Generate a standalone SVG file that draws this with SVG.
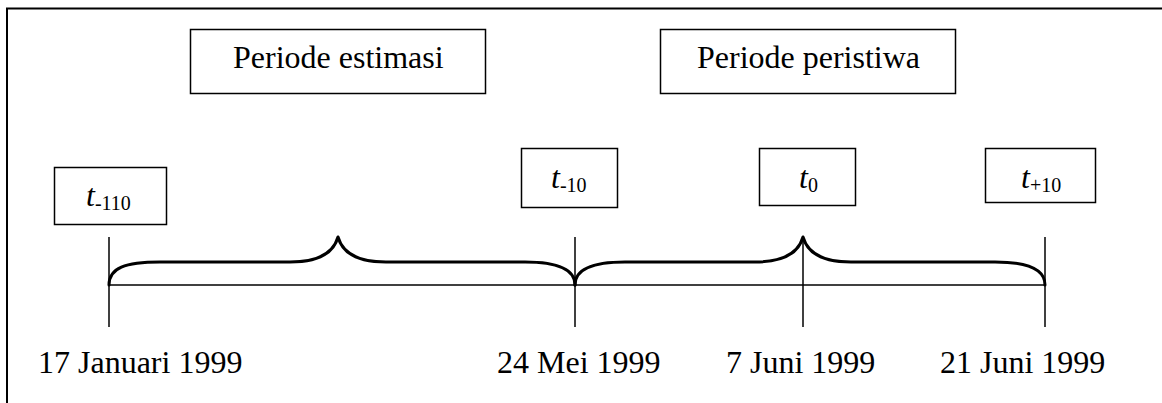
<svg xmlns="http://www.w3.org/2000/svg" width="1162" height="403" viewBox="0 0 1162 403">
  <style>
    .frame { fill: none; stroke: #000; stroke-width: 2; }
    .box { fill: none; stroke: #000; stroke-width: 1.5; }
    .lbl { font-family: "Liberation Serif", "Times New Roman", serif; font-size: 32px; fill: #000; }
    .t { font-style: italic; }
    .sub { font-style: normal; font-size: 20px; }
    .axis { stroke: #000; stroke-width: 1.5; fill: none; }
    .tick { stroke: #000; stroke-width: 1.5; fill: none; }
    .brace { stroke: #000; stroke-width: 3; fill: none; stroke-linecap: round; stroke-linejoin: round; }
  </style>
  <rect width="1162" height="403" fill="#fff"/>
  <!-- outer frame, running off the right and bottom edges -->
  <rect class="frame" x="7" y="8.5" width="1170" height="410"/>

  <g id="periode-estimasi">
    <rect class="box" x="190.5" y="29.5" width="295" height="64"/>
    <text class="lbl" x="233" y="68">Periode estimasi</text>
  </g>
  <g id="periode-peristiwa">
    <rect class="box" x="660.5" y="29.5" width="295" height="64"/>
    <text class="lbl" x="697" y="68">Periode peristiwa</text>
  </g>

  <g id="t-110">
    <rect class="box" x="54.5" y="167.5" width="112" height="57"/>
    <text class="lbl t" x="86" y="206">t<tspan class="sub" dy="4">-110</tspan></text>
  </g>
  <g id="t-10">
    <rect class="box" x="521.5" y="148.5" width="96" height="59"/>
    <text class="lbl t" x="551" y="188">t<tspan class="sub" dy="4">-10</tspan></text>
  </g>
  <g id="t0">
    <rect class="box" x="759.5" y="148.5" width="96" height="57"/>
    <text class="lbl t" x="799" y="188">t<tspan class="sub" dy="4">0</tspan></text>
  </g>
  <g id="t+10">
    <rect class="box" x="985.5" y="148.5" width="110" height="54"/>
    <text class="lbl t" x="1021" y="188">t<tspan class="sub" dy="4">+10</tspan></text>
  </g>

  <g id="connectors">
    <!-- time axis -->
    <line class="axis" x1="109" y1="285" x2="1045" y2="285"/>
    <!-- ticks -->
    <line class="tick" x1="109" y1="237" x2="109" y2="327"/>
    <line class="tick" x1="575" y1="237" x2="575" y2="327"/>
    <line class="tick" x1="803" y1="237" x2="803" y2="327"/>
    <line class="tick" x1="1045" y1="237" x2="1045" y2="327"/>
    <!-- estimation period brace -->
    <path class="brace" d="M109,285 C109,268 125,262 160,262 L290,262 C315,262 333,255 338,237 C343,255 361,262 386,262 L525,262 C560,262 575,270 575,285"/>
    <!-- event period brace -->
    <path class="brace" d="M575,285 C575,270 590,262 625,262 L755,262 C780,262 798,255 803,237 C808,255 826,262 851,262 L995,262 C1028,262 1045,270 1045,285"/>
  </g>

  <g id="dates">
    <text class="lbl" x="38" y="373">17 Januari 1999</text>
    <text class="lbl" x="497" y="373">24 Mei 1999</text>
    <text class="lbl" x="726" y="373">7 Juni 1999</text>
    <text class="lbl" x="940" y="373">21 Juni 1999</text>
  </g>
</svg>
